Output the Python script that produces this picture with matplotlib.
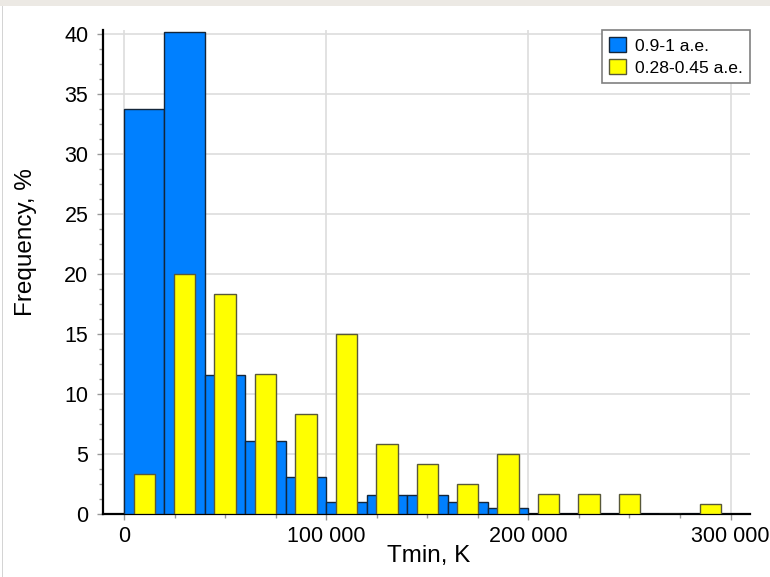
import matplotlib
matplotlib.use("Agg")
import matplotlib.pyplot as plt
import matplotlib.patches as mPatches
from matplotlib.ticker import MultipleLocator, FuncFormatter

# histogram bins (left edge, K), 20 000 K wide
bin_starts = [0, 20000, 40000, 60000, 80000, 100000, 120000, 140000,
              160000, 180000, 200000, 220000, 240000, 260000, 280000]
bin_width = 20000

# frequency, %
freq_near = [33.7, 40.1, 11.6, 6.1, 3.1, 1.0, 1.6, 1.6, 1.0, 0.5, 0, 0, 0, 0, 0]
freq_far = [3.33, 20.0, 18.33, 11.67, 8.33, 15.0, 5.83, 4.17,
            2.5, 5.0, 1.67, 1.67, 1.67, 0, 0.83]

series_labels = ['0.9-1 a.e.', '0.28-0.45 a.e.']
x_label = 'Tmin, K'
y_label = 'Frequency, %'

plt.rcParams['font.family'] = ['Liberation Sans', 'DejaVu Sans']

blue = '#0080FF'
yellow = '#FFFF00'

fig = plt.figure(figsize=(7.7, 5.77), dpi=100)
# window chrome: light strip on top, thin line on the left
fig.patches.append(mPatches.Rectangle((0, 1 - 5.5 / 577), 1, 5.5 / 577, transform=fig.transFigure,
                                      facecolor='#ECE9E4', edgecolor='none', zorder=0))
fig.patches.append(mPatches.Rectangle((2 / 770, 0), 1.2 / 770, 1 - 5.5 / 577, transform=fig.transFigure,
                                      facecolor='#D4D4D4', edgecolor='none', zorder=0))

ax = fig.add_axes([103 / 770, 63 / 577, 647 / 770, 484 / 577])

centers = [b + bin_width / 2 for b in bin_starts]
ax.bar(centers, freq_near, width=bin_width, color=blue, edgecolor='#14263a',
       linewidth=1.0, zorder=3, label=series_labels[0])
ax.bar(centers, freq_far, width=10600, color=yellow, edgecolor='#58583a',
       linewidth=1.0, zorder=4, label=series_labels[1])

ax.set_xlim(-10400, 309600)
ax.set_ylim(0, 40.3)

ax.xaxis.set_major_locator(MultipleLocator(100000))
ax.xaxis.set_minor_locator(MultipleLocator(25000))
ax.yaxis.set_major_locator(MultipleLocator(5))
ax.yaxis.set_minor_locator(MultipleLocator(1.25))
ax.xaxis.set_major_formatter(FuncFormatter(lambda v, p: f'{int(v):,}'.replace(',', ' ')))

ax.grid(True, which='major', color='#DDDDDD', linewidth=1.2, zorder=0)
ax.set_axisbelow(True)

for side in ['top', 'right']:
    ax.spines[side].set_visible(False)
for side in ['left', 'bottom']:
    ax.spines[side].set_linewidth(1.6)
    ax.spines[side].set_color('black')
    ax.spines[side].set_zorder(2.5)

ax.tick_params(which='major', length=4.5, width=1, color='#999999', labelsize=15.5, pad=6)
ax.tick_params(axis='x', which='major', pad=4)
ax.tick_params(which='minor', length=3, width=1, color='#999999')

ax.set_xlabel(x_label, fontsize=17.5)
ax.set_ylabel(y_label, fontsize=17.5)
ax.xaxis.set_label_coords(0.504, -0.064)
ax.yaxis.set_label_coords(-0.102, 0.561)

leg = ax.legend(loc='upper right', bbox_to_anchor=(1, 1.0), borderaxespad=0,
                fontsize=12.6, fancybox=False, framealpha=1, edgecolor='#808080',
                handlelength=0.97, handleheight=0.97, handletextpad=0.5,
                labelspacing=0.3, borderpad=0.4)
leg.get_frame().set_linewidth(1.2)

fig.savefig('out.png', dpi=100, facecolor='white')
plt.close()
